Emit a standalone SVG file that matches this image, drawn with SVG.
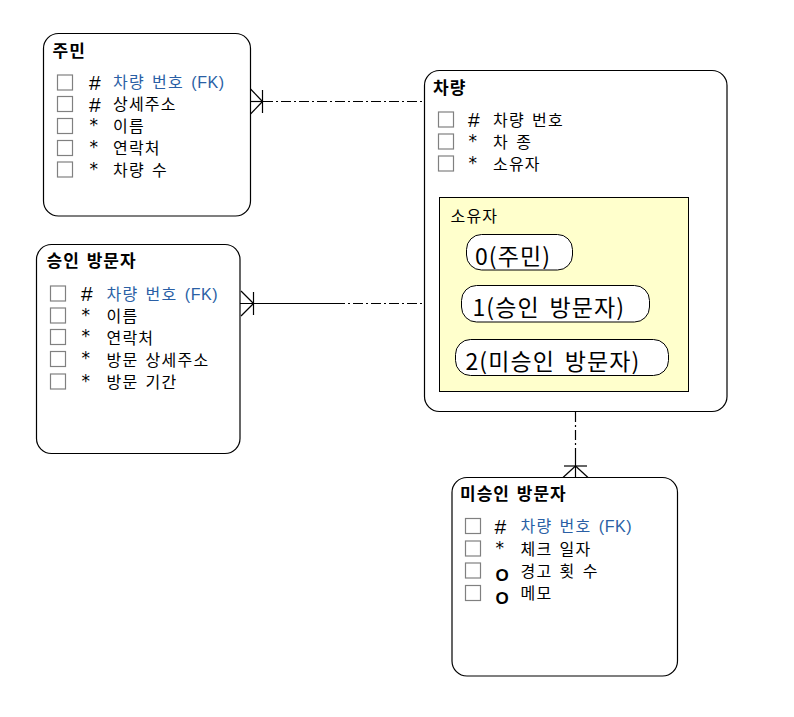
<svg xmlns="http://www.w3.org/2000/svg" width="794" height="717" viewBox="0 0 794 717">
<style>
.box{fill:#fff;stroke:#000;stroke-width:1.2}
.cb{fill:#fff;stroke:#808080;stroke-width:1.2}
.t{font-family:"Noto Sans CJK KR","Liberation Sans",sans-serif;font-size:16px;letter-spacing:1.2px;word-spacing:2.5px;fill:#000}
.lat{font-family:"Liberation Sans",sans-serif;letter-spacing:0.6px}
.title{font-family:"Noto Sans CJK KR","Liberation Sans",sans-serif;font-size:17px;font-weight:bold;letter-spacing:1px;word-spacing:2px;fill:#000}
.fk{fill:#2a5fa5}
.hash{font-family:"Liberation Sans",sans-serif;font-size:21px;fill:#000}
.star{font-family:"DejaVu Sans",sans-serif;font-size:17px;fill:#000}
.circ{font-family:"Liberation Sans",sans-serif;font-size:17px;font-weight:bold;fill:#000}
.pill{fill:#fff;stroke:#000;stroke-width:1}
.pt{font-family:"Noto Sans CJK KR","Liberation Sans",sans-serif;font-size:23px;letter-spacing:1.1px;word-spacing:3.5px;fill:#000}
.ln{fill:none;stroke:#000;stroke-width:1.2}
.dd{stroke-dasharray:10 3 2 3}
</style>

<g id="connectors">
  <line class="ln dd" x1="263" y1="101.5" x2="424" y2="101.5"/>
  <line class="ln" x1="250" y1="101.5" x2="263" y2="101.5"/>
  <line class="ln" x1="262.5" y1="90" x2="262.5" y2="113"/>
  <line class="ln" x1="250.5" y1="89" x2="262.5" y2="101.5"/>
  <line class="ln" x1="250.5" y1="114" x2="262.5" y2="101.5"/>

  <line class="ln" x1="240" y1="303.5" x2="335" y2="303.5"/>
  <line class="ln dd" x1="335" y1="303.5" x2="424" y2="303.5"/>
  <line class="ln" x1="253.5" y1="292" x2="253.5" y2="315"/>
  <line class="ln" x1="241" y1="291" x2="253.5" y2="303.5"/>
  <line class="ln" x1="241" y1="316" x2="253.5" y2="303.5"/>

  <line class="ln dd" x1="575.5" y1="412" x2="575.5" y2="450"/>
  <line class="ln" x1="575.5" y1="450" x2="575.5" y2="477"/>
  <line class="ln" x1="564" y1="466" x2="587" y2="466"/>
  <line class="ln" x1="563" y1="477.5" x2="575.5" y2="466"/>
  <line class="ln" x1="588" y1="477.5" x2="575.5" y2="466"/>
</g>

<g id="node-jumin">
  <rect class="box" x="43.5" y="33.5" width="207" height="182.5" rx="15"/>
  <text class="title" x="52.5" y="57">주민</text>
  <rect class="cb" x="57.5" y="75" width="15" height="15"/>
  <rect class="cb" x="57.5" y="96.5" width="15" height="15"/>
  <rect class="cb" x="57.5" y="118.5" width="15" height="15"/>
  <rect class="cb" x="57.5" y="140.5" width="15" height="15"/>
  <rect class="cb" x="57.5" y="162" width="15" height="15"/>
  <text class="hash fk" x="89" y="90">#</text>
  <text class="hash" x="89" y="111.5">#</text>
  <text class="star" x="89.5" y="131">*</text>
  <text class="star" x="89.5" y="153">*</text>
  <text class="star" x="89.5" y="174.5">*</text>
  <text class="t fk" x="113" y="88">차량 번호 <tspan class="lat">(FK)</tspan></text>
  <text class="t" x="113" y="110">상세주소</text>
  <text class="t" x="113" y="132">이름</text>
  <text class="t" x="113" y="154">연락처</text>
  <text class="t" x="113" y="176">차량 수</text>
</g>

<g id="node-approved">
  <rect class="box" x="36.5" y="244.5" width="203.5" height="209" rx="15"/>
  <text class="title" x="46.5" y="267">승인 방문자</text>
  <rect class="cb" x="50.5" y="286" width="15" height="15"/>
  <rect class="cb" x="50.5" y="308" width="15" height="15"/>
  <rect class="cb" x="50.5" y="329.5" width="15" height="15"/>
  <rect class="cb" x="50.5" y="351.5" width="15" height="15"/>
  <rect class="cb" x="50.5" y="374" width="15" height="15"/>
  <text class="hash fk" x="81" y="301">#</text>
  <text class="star" x="81.5" y="320.5">*</text>
  <text class="star" x="81.5" y="342">*</text>
  <text class="star" x="81.5" y="364">*</text>
  <text class="star" x="81.5" y="386.5">*</text>
  <text class="t fk" x="106.5" y="299.5">차량 번호 <tspan class="lat">(FK)</tspan></text>
  <text class="t" x="106.5" y="321.5">이름</text>
  <text class="t" x="106.5" y="343.5">연락처</text>
  <text class="t" x="106.5" y="365.5">방문 상세주소</text>
  <text class="t" x="106.5" y="388">방문 기간</text>
</g>

<g id="node-car">
  <rect class="box" x="424.5" y="70.5" width="302.5" height="341" rx="15"/>
  <text class="title" x="433" y="94">차량</text>
  <rect class="cb" x="438.5" y="112" width="15" height="15"/>
  <rect class="cb" x="438.5" y="134" width="15" height="15"/>
  <rect class="cb" x="438.5" y="156" width="15" height="15"/>
  <text class="hash" x="468" y="127">#</text>
  <text class="star" x="468.5" y="146.5">*</text>
  <text class="star" x="468.5" y="168.5">*</text>
  <text class="t" x="493" y="126">차량 번호</text>
  <text class="t" x="493" y="148">차 종</text>
  <text class="t" x="493" y="170">소유자</text>
  <rect x="439.5" y="197.5" width="249" height="194" fill="#ffffcc" stroke="#000" stroke-width="1"/>
  <text class="t" x="450.5" y="222">소유자</text>
  <rect class="pill" x="466.5" y="234.5" width="106" height="35.5" rx="15"/>
  <text class="pt" x="475" y="265">0(주민)</text>
  <rect class="pill" x="461.5" y="285.5" width="188" height="36.5" rx="15"/>
  <text class="pt" x="472.5" y="316">1(승인 방문자)</text>
  <rect class="pill" x="455.5" y="339.5" width="213" height="36" rx="15"/>
  <text class="pt" x="465.5" y="370">2(미승인 방문자)</text>
</g>

<g id="node-unapproved">
  <rect class="box" x="452" y="477.5" width="225.5" height="198.5" rx="15"/>
  <text class="title" x="460" y="500">미승인 방문자</text>
  <rect class="cb" x="465.5" y="518.5" width="15" height="15"/>
  <rect class="cb" x="465.5" y="541" width="15" height="15"/>
  <rect class="cb" x="465.5" y="563" width="15" height="15"/>
  <rect class="cb" x="465.5" y="585.5" width="15" height="15"/>
  <text class="hash fk" x="494.5" y="533.5">#</text>
  <text class="star" x="495.5" y="553.5">*</text>
  <text class="circ" x="495.5" y="581">O</text>
  <text class="circ" x="495.5" y="603.5">O</text>
  <text class="t fk" x="520.5" y="531.5">차량 번호 <tspan class="lat">(FK)</tspan></text>
  <text class="t" x="520.5" y="554.5">체크 일자</text>
  <text class="t" x="520.5" y="577">경고 횟 수</text>
  <text class="t" x="520.5" y="599">메모</text>
</g>
</svg>
